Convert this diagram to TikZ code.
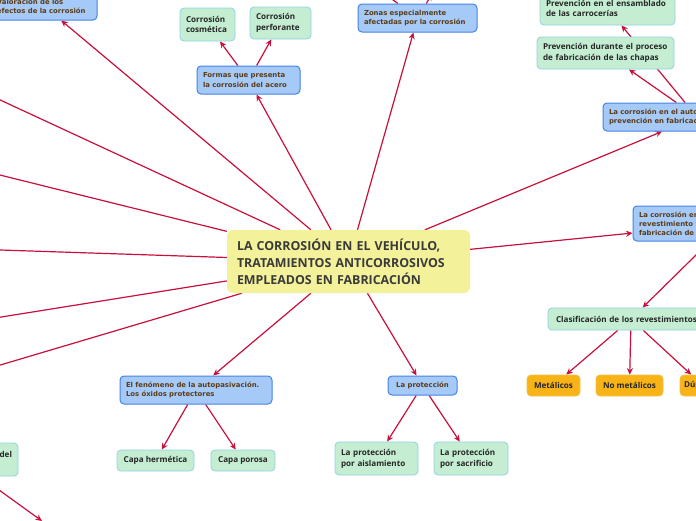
\documentclass[tikz,border=0pt]{standalone}
\usepackage{fontspec}
\usetikzlibrary{arrows.meta}
\newfontfamily\opensans{Open Sans}
\newfontfamily\dejavu{DejaVu Sans}
\definecolor{linkred}{HTML}{C8103C}
\definecolor{hubfill}{HTML}{F4F19B}
\definecolor{hubtext}{HTML}{3A3A3A}
\definecolor{topicfill}{HTML}{A6CAF8}
\definecolor{topicline}{HTML}{4682E6}
\definecolor{topictext}{HTML}{5C3B16}
\definecolor{leaffill}{HTML}{C4EDD2}
\definecolor{leafline}{HTML}{8FD3E3}
\definecolor{kindfill}{HTML}{F8B417}
\definecolor{kindline}{HTML}{EDC24A}
\newcommand{\hubfont}{\opensans\bfseries\fontsize{12.4}{17}\selectfont}
\newcommand{\topicfont}{\dejavu\bfseries\fontsize{6.9}{9.2}\selectfont}
\newcommand{\leaffont}{\opensans\bfseries\fontsize{8.1}{10.8}\selectfont}
\pgfdeclarelayer{bg}
\pgfdeclarelayer{links}
\pgfsetlayers{bg,links,main}

\begin{document}
\begin{tikzpicture}[x=1pt, y=-1pt,
  hub/.style={fill=hubfill, rounded corners=6pt, text=hubtext, font=\hubfont, align=left, inner xsep=10pt, inner ysep=2pt},
  topic/.style={draw=topicline, line width=1pt, fill=topicfill, rounded corners=4pt, text=topictext, font=\topicfont, align=left, inner xsep=6pt, inner ysep=2pt},
  leaf/.style={draw=leafline, line width=0.8pt, fill=leaffill, rounded corners=4pt, text=black!85, font=\leaffont, align=left, inner xsep=6pt, inner ysep=2pt},
  kind/.style={draw=kindline, line width=0.8pt, fill=kindfill, rounded corners=4pt, text=black!85, font=\leaffont, align=center, inner xsep=4pt, inner ysep=2pt},
  link/.style={draw=linkred, line width=1.2pt, -{Stealth[length=6.5pt,width=6pt]}}
]

% Page frame
\useasboundingbox (0,0) rectangle (696,520);
\begin{pgfonlayer}{bg}
\fill[white] (0,0) rectangle (696,520);
\end{pgfonlayer}
\clip (0,0) rectangle (696,520);

% Central topic
\node[hub, text width=223pt, minimum height=63pt] (hub) at (348.5,261.5) {LA CORROSIÓN EN EL VEHÍCULO,\\TRATAMIENTOS ANTICORROSIVOS\\EMPLEADOS EN FABRICACIÓN};

% Main branches
\node[topic, text width=94pt, minimum height=28pt] (valor) at (44,6) {Valoración de los\\efectos de la corrosión};
\node[topic, text width=91pt, minimum height=28pt] (formas) at (248.5,80) {Formas que presenta\\la corrosión del acero};
\node[topic, text width=107pt, minimum height=28pt] (zonas) at (417.5,18) {Zonas especialmente\\afectadas por la corrosión};
\node[topic, text width=176pt, minimum height=28pt] (autom) at (697,117) {La corrosión en el automóvil y su\\prevención en fabricación};
\node[topic, text width=178pt, minimum height=35pt] (reves) at (728,223.5) {La corrosión en el\\revestimiento y\\fabricación de};
\node[topic, text width=140pt, minimum height=28pt] (autopas) at (196,390) {El fenómeno de la autopasivación.\\Los óxidos protectores};
\node[topic, align=center, minimum width=69pt, minimum height=19pt, inner xsep=2pt] (protec) at (422.5,385.5) {La protección};

% Leaves
\node[leaf, text width=43pt, minimum height=33pt] (cosmet) at (207.5,24.5) {Corrosión\\cosmética};
\node[leaf, text width=49pt, minimum height=32pt] (perfor) at (280.5,23) {Corrosión\\perforante};
\node[leaf, text width=123pt, minimum height=33pt] (ensamb) at (607.5,8.5) {Prevención en el ensamblado\\de las carrocerías};
\node[leaf, text width=125pt, minimum height=32pt] (durante) at (605.5,53) {Prevención durante el proceso\\de fabricación de las chapas};
\node[leaf, text width=150pt, minimum height=22pt, inner xsep=8pt] (clasif) at (631,319) {Clasificación de los revestimientos};
\node[leaf, align=center, minimum width=77pt, minimum height=21pt, inner xsep=2pt] (hermet) at (155.5,460.5) {Capa hermética};
\node[leaf, align=center, minimum width=64pt, minimum height=21pt, inner xsep=2pt] (porosa) at (243,460.5) {Capa porosa};
\node[leaf, text width=71pt, minimum height=33pt] (aislam) at (376.5,458.5) {La protección\\por aislamiento};
\node[leaf, text width=62pt, minimum height=33pt] (sacrif) at (471,458.5) {La protección\\por sacrificio};
\node[leaf, align=right, text width=66pt, minimum height=33pt] (del) at (-21,459.5) {del\\\mbox{}};

% Kinds of coatings
\node[kind, minimum width=53pt, minimum height=21pt] (metal) at (553.5,385.5) {Metálicos};
\node[kind, minimum width=67pt, minimum height=21pt] (nometal) at (629.5,385.5) {No metálicos};
\node[kind, minimum width=46pt, minimum height=21pt, text width=38pt, align=left] (duplex) at (703,385.5) {Dúplex};

% Branches that leave the page
\coordinate (left1) at (-30,86);
\coordinate (left2) at (-30,167.6);
\coordinate (left3) at (-30,249);
\coordinate (left4) at (-30,322);
\coordinate (left5) at (-30,374);
\coordinate (zonasA) at (385,-6);
\coordinate (zonasB) at (432,-6);
\coordinate (delsrc) at (-30,469);
\coordinate (deltgt) at (42,521);

% Connectors
\begin{pgfonlayer}{links}
\draw[link] (hub) -- (valor);
\draw[link] (hub) -- (formas);
\draw[link] (hub) -- (zonas);
\draw[link] (hub) -- (autom);
\draw[link] (hub) -- (reves);
\draw[link] (hub) -- (autopas);
\draw[link] (hub) -- (protec);
\foreach \c in {left1,left2,left3,left4,left5}
  \draw[link] (hub) -- (\c);
\draw[link] (formas) -- (cosmet);
\draw[link] (formas) -- (perfor);
\draw[link] (zonas) -- (zonasA);
\draw[link] (zonas) -- (zonasB);
\draw[link] (autom) -- (durante);
\draw[link] (autom) -- (ensamb);
\draw[link] (reves) -- (clasif);
\foreach \c in {metal,nometal,duplex}
  \draw[link] (clasif) -- (\c);
\draw[link] (autopas) -- (hermet);
\draw[link] (autopas) -- (porosa);
\draw[link] (protec) -- (aislam);
\draw[link] (protec) -- (sacrif);
\draw[link] (delsrc) -- (deltgt);
\end{pgfonlayer}

\end{tikzpicture}
\end{document}
